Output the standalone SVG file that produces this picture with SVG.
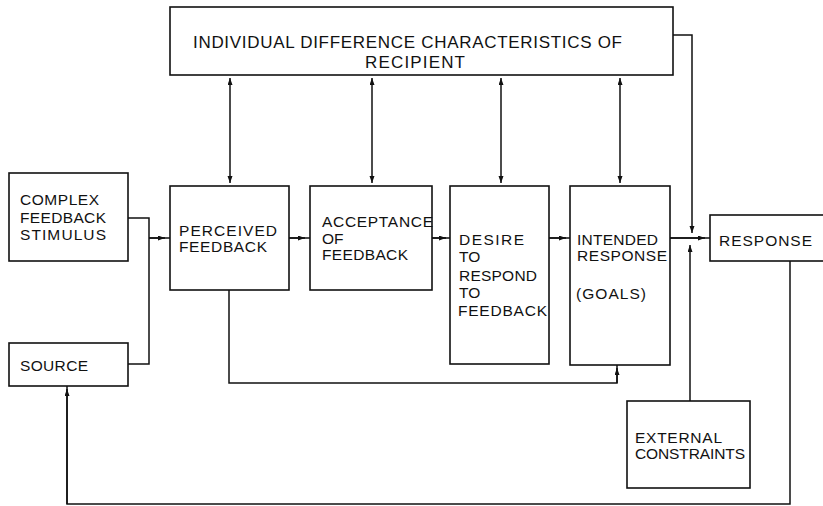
<svg xmlns="http://www.w3.org/2000/svg" width="823" height="506" viewBox="0 0 823 506">
<defs>
<marker id="ah" markerUnits="userSpaceOnUse" markerWidth="8" markerHeight="6" refX="7" refY="2.5" orient="auto">
<path d="M0,0 L7,2.5 L0,5 z" fill="#111"/>
</marker>
<marker id="ahs" markerUnits="userSpaceOnUse" markerWidth="8" markerHeight="6" refX="7" refY="2.5" orient="auto-start-reverse">
<path d="M0,0 L7,2.5 L0,5 z" fill="#111"/>
</marker>
</defs>
<style>
.box{fill:none;stroke:#111;stroke-width:1.6}
.t{font-family:"Liberation Sans",Arial,sans-serif;font-size:15.5px;fill:#111}
.tt{font-family:"Liberation Sans",Arial,sans-serif;font-size:17px;fill:#111}
.c{fill:none;stroke:#111;stroke-width:1.5}
</style>
<rect width="823" height="506" fill="#fff"/>
<g id="individual">
<rect class="box" x="170" y="7" width="503" height="68"/>
<text class="tt" x="193" y="48" textLength="429" lengthAdjust="spacing">INDIVIDUAL DIFFERENCE CHARACTERISTICS OF</text>
<text class="tt" x="365" y="68" textLength="100" lengthAdjust="spacing">RECIPIENT</text>
</g>
<g id="complex">
<rect class="box" x="9" y="173" width="119" height="88"/>
<text class="t" x="20" y="205" textLength="79" lengthAdjust="spacing">COMPLEX</text>
<text class="t" x="20" y="223" textLength="86" lengthAdjust="spacing">FEEDBACK</text>
<text class="t" x="20" y="240" textLength="86" lengthAdjust="spacing">STIMULUS</text>
</g>
<g id="source">
<rect class="box" x="9" y="343" width="119" height="43"/>
<text class="t" x="20" y="371" textLength="68" lengthAdjust="spacing">SOURCE</text>
</g>
<g id="perceived">
<rect class="box" x="170" y="186" width="119" height="104"/>
<text class="t" x="179" y="236" textLength="98" lengthAdjust="spacing">PERCEIVED</text>
<text class="t" x="179" y="252" textLength="88" lengthAdjust="spacing">FEEDBACK</text>
</g>
<g id="acceptance">
<rect class="box" x="310" y="186" width="122" height="104"/>
<text class="t" x="322" y="227" textLength="111" lengthAdjust="spacing">ACCEPTANCE</text>
<text class="t" x="322" y="244">OF</text>
<text class="t" x="322" y="260" textLength="86" lengthAdjust="spacing">FEEDBACK</text>
</g>
<g id="desire">
<rect class="box" x="450" y="186" width="99" height="178"/>
<text class="t" x="459" y="245" textLength="65" lengthAdjust="spacing">DESIRE</text>
<text class="t" x="459" y="262">TO</text>
<text class="t" x="459" y="281" textLength="78" lengthAdjust="spacing">RESPOND</text>
<text class="t" x="459" y="298">TO</text>
<text class="t" x="458" y="316" textLength="89" lengthAdjust="spacing">FEEDBACK</text>
</g>
<g id="intended">
<rect class="box" x="570" y="186" width="100" height="179"/>
<text class="t" x="577" y="245" textLength="81" lengthAdjust="spacing">INTENDED</text>
<text class="t" x="577" y="261" textLength="90" lengthAdjust="spacing">RESPONSE</text>
<text class="t" x="576" y="299" textLength="70" lengthAdjust="spacing">(GOALS)</text>
</g>
<g id="response">
<rect class="box" x="710" y="215" width="130" height="46"/>
<text class="t" x="719" y="246" textLength="93" lengthAdjust="spacing">RESPONSE</text>
</g>
<g id="external">
<rect class="box" x="627" y="401" width="123" height="87"/>
<text class="t" x="635" y="443" textLength="87" lengthAdjust="spacing">EXTERNAL</text>
<text class="t" x="635" y="459" textLength="110" lengthAdjust="spacing">CONSTRAINTS</text>
</g>
<g id="connectors">
<path class="c" d="M128,218 H149 V364 H128"/>
<path class="c" d="M149,238 H170"/>
<path class="c" d="M149,238 H165" marker-end="url(#ah)"/>
<path class="c" d="M289,238 H310"/>
<path class="c" d="M289,238 H305" marker-end="url(#ah)"/>
<path class="c" d="M432,238 H450"/>
<path class="c" d="M432,238 H446" marker-end="url(#ah)"/>
<path class="c" d="M549,238 H570"/>
<path class="c" d="M549,238 H566" marker-end="url(#ah)"/>
<path class="c" d="M670,238 H710"/>
<path class="c" d="M670,238 H705" marker-end="url(#ah)"/>
<path class="c" d="M230,78 V183" marker-start="url(#ahs)" marker-end="url(#ahs)"/>
<path class="c" d="M372,78 V183" marker-start="url(#ahs)" marker-end="url(#ahs)"/>
<path class="c" d="M501,78 V183" marker-start="url(#ahs)" marker-end="url(#ahs)"/>
<path class="c" d="M620,78 V183" marker-start="url(#ahs)" marker-end="url(#ahs)"/>
<path class="c" d="M673,35 H692 V233" marker-end="url(#ah)"/>
<path class="c" d="M690,401 V245" marker-end="url(#ah)"/>
<path class="c" d="M229,290 V383 H617 V365"/>
<path class="c" d="M617,383 V368" marker-end="url(#ah)"/>
<path class="c" d="M790,261 V504 H67 V386"/>
<path class="c" d="M67,504 V389" marker-end="url(#ah)"/>
</g>
</svg>
